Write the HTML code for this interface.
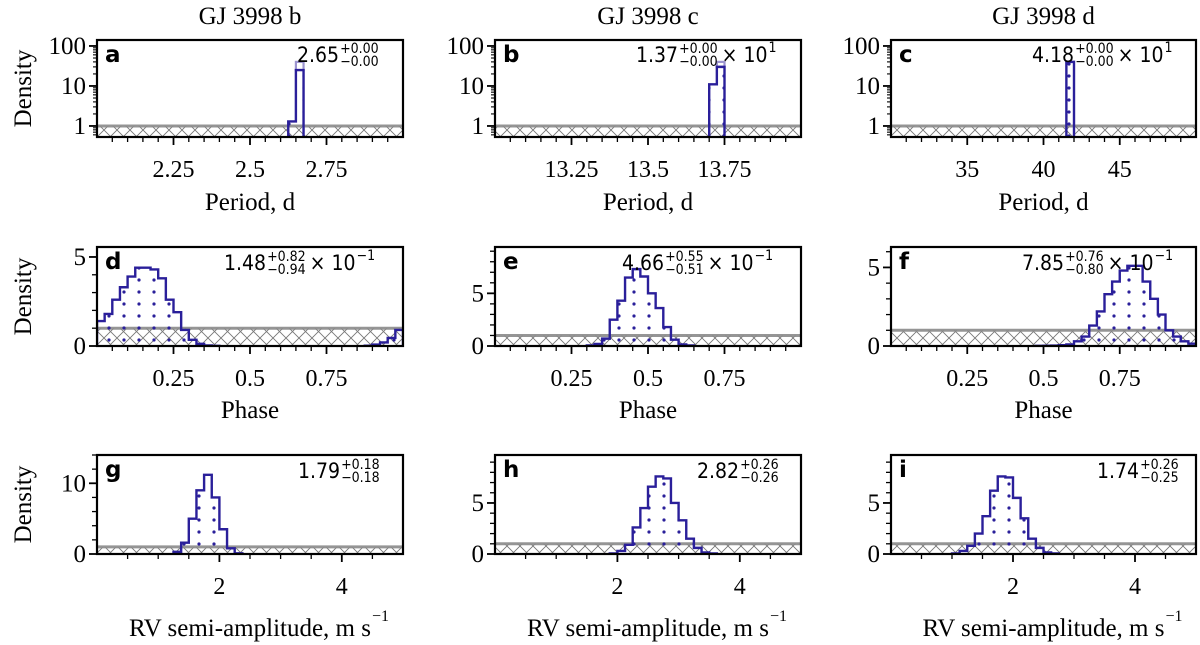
<!DOCTYPE html>
<html><head><meta charset="utf-8">
<style>
html,body{margin:0;padding:0;background:#fff;}
svg{display:block;}
.serif{font-family:"Liberation Serif",serif;fill:#000;}
.ann{font-family:"DejaVu Sans Condensed","DejaVu Sans",sans-serif;fill:#000;}
.lett{font-family:"DejaVu Sans","Liberation Sans",sans-serif;font-weight:bold;fill:#000;}
</style></head>
<body>
<svg id="fig" width="1200" height="645" viewBox="0 0 1200 645" xmlns="http://www.w3.org/2000/svg">
<defs>
<pattern id="hatch" width="13" height="13" patternUnits="userSpaceOnUse">
<path d="M0,0L13,13M13,0L0,13" stroke="#777" stroke-width="0.9"/>
</pattern>
<pattern id="dots" width="15" height="12" patternUnits="userSpaceOnUse">
<circle cx="4" cy="4" r="1.6" fill="#2a1f9a"/>
</pattern>
</defs>
</svg>
<script>
// ---- data ----
const colTitles = ["GJ 3998 b","GJ 3998 c","GJ 3998 d"];
const panelLetters = ["a","b","c","d","e","f","g","h","i"];
const xLabels = ["Period, d","Phase","RV semi-amplitude, m s"];
const annMain = ["2.65","1.37","4.18","1.48","4.66","7.85","1.79","2.82","1.74"];
const annPlus = ["+0.00","+0.00","+0.00","+0.82","+0.55","+0.76","+0.18","+0.26","+0.26"];
const annMinus = ["\u22120.00","\u22120.00","\u22120.00","\u22120.94","\u22120.51","\u22120.80","\u22120.18","\u22120.26","\u22120.25"];
const annExp = ["","1","1","\u22121","\u22121","\u22121","","",""];
const xMin = [2,13,30,0,0,0,0,0,0];
const xMax = [3,14,50,1,1,1,5,5,5];
const yMin = [0.53,0.53,0.53,0,0,0,0,0,0];
const yMax = [141,141,141,5.56,9.4,6.3,14,9.7,9.7];
const xMajor = [[2.25,2.5,2.75],[13.25,13.5,13.75],[35,40,45],[0.25,0.5,0.75],[0.25,0.5,0.75],[0.25,0.5,0.75],[2,4],[2,4],[2,4]];
const xMajorLabels = [["2.25","2.5","2.75"],["13.25","13.5","13.75"],["35","40","45"],["0.25","0.5","0.75"],["0.25","0.5","0.75"],["0.25","0.5","0.75"],["2","4"],["2","4"],["2","4"]];
const xMinorStep = [0.05,0.05,1,0.05,0.05,0.05,0.5,0.5,0.5];
const yMajor = [[1,10,100],[1,10,100],[1,10,100],[0,5],[0,5],[0,5],[0,10],[0,5],[0,5]];
const yMajorLabels = [["1","10","100"],["1","10","100"],["1","10","100"],["0","5"],["0","5"],["0","5"],["0","10"],["0","5"],["0","5"]];
const yMinorStep = [0,0,0,1,1,1,2,1,1];
// histogram bins: start, width, densities
const binStart = [2.6,13.675,40.5,0,0.275,0.475,1.125,1.75,0.875];
const binWidth = [0.025,0.025,0.5,0.025,0.025,0.025,0.125,0.125,0.125];
const histA = [0,1.3,25,0];
const histB = [0,11,30,0];
const histC = [0,0,40,0];
const histD = [1.4,1.8,2.6,3.3,3.9,4.4,4.4,4.3,3.8,2.6,1.9,0.9,0.35,0.12,0.03,0.01,0,0,0,0,0,0,0,0,0,0,0,0,0,0,0,0,0,0,0,0.02,0.08,0.2,0.45,0.9];
const histE = [0,0.05,0.2,0.7,2.5,4.3,6.5,7.3,6.6,5.0,3.6,1.8,0.6,0.15,0.05,0,0];
const histF = [0.01,0.02,0.03,0.05,0.1,0.3,0.6,1.3,2.2,3.3,4.1,4.8,5.1,5.1,4.1,3.0,2.0,1.0,0.6,0.3,0.15];
const histG = [0,0.3,1.6,5.0,9.0,11.2,8.0,3.5,0.8,0.1,0];
const histH = [0,0.05,0.3,0.9,2.6,4.5,6.6,7.6,7.4,5.0,3.3,1.5,0.6,0.15,0.05,0];
const histI = [0,0.05,0.3,0.8,2.0,3.7,6.2,7.6,7.5,5.5,3.5,1.5,0.6,0.15,0.05,0];
const hists = [histA,histB,histC,histD,histE,histF,histG,histH,histI];
const peakLight = [40,40,40,0,7.3,5.1,0,0,0];
const priorLevel = [1,1,1,1,1,1,1,1,1];

// ---- layout ----
const colX = [[97,403],[495,801],[891,1196]];
const rowY = [[40,137],[247,346],[455,554]];
const svg = document.getElementById('fig');
const NS = "http://www.w3.org/2000/svg";
function mk(tag, attrs, parent){
  const e = document.createElementNS(NS, tag);
  for (const k in attrs) e.setAttribute(k, attrs[k]);
  (parent||svg).appendChild(e);
  return e;
}

colTitles.forEach((t,c)=>{
  const e = mk('text',{x:(colX[c][0]+colX[c][1])/2,y:24,'text-anchor':'middle','font-size':25,class:'serif'});
  
  
  e.textContent = t;
});

for (let p=0;p<9;p++){
  const r = Math.floor(p/3), c = p%3;
  const [x0,x1] = colX[c], [y0,y1] = rowY[r];
  const logY = r===0;
  const X = v => x0 + (v - xMin[p])/(xMax[p]-xMin[p])*(x1-x0);
  const Y = v => {
    if (logY){ const lv=Math.log10(Math.max(v,1e-3)); return y1 - (lv-Math.log10(yMin[p]))/(Math.log10(yMax[p])-Math.log10(yMin[p]))*(y1-y0); }
    return y1 - (v - yMin[p])/(yMax[p]-yMin[p])*(y1-y0);
  };
  const g = mk('g',{});
  
  
  const clipId = 'clip'+p;
  const cp = mk('clipPath',{id:clipId},g);
  mk('rect',{x:x0,y:y0,width:x1-x0,height:y1-y0},cp);
  const inner = mk('g',{'clip-path':'url(#'+clipId+')'},g);

  const py = Y(priorLevel[p]);
  const prior = mk('rect',{x:x0,y:py,width:x1-x0,height:y1-py,fill:'url(#hatch)'},inner);
  
  
  const pl = mk('line',{x1:x0,x2:x1,y1:py,y2:py,stroke:'#8a8a8a','stroke-width':3,opacity:0.9},inner);
  
  

  const h = hists[p];
  let d = '';
  const base = y1+2;
  d += 'M'+X(binStart[p])+','+base;
  for (let i=0;i<h.length;i++){
    const xa = X(binStart[p]+i*binWidth[p]), xb = X(binStart[p]+(i+1)*binWidth[p]);
    const yy = h[i]>0 ? Y(h[i]) : base;
    d += 'L'+xa+','+yy+'L'+xb+','+yy;
  }
  d += 'L'+X(binStart[p]+h.length*binWidth[p])+','+base;
  if (peakLight[p]>0){
    let im=0; h.forEach((v,i)=>{ if(v>h[im]) im=i; });
    const lp = mk('rect',{x:X(binStart[p]+im*binWidth[p]),y:Y(peakLight[p]),width:X(binStart[p]+(im+1)*binWidth[p])-X(binStart[p]+im*binWidth[p]),height:Math.max(0,Y(h[im])-Y(peakLight[p])),fill:'none',stroke:'#9c94cf','stroke-width':2.2},inner);
    
    
  }
  const fillP = mk('path',{d:d+'Z',fill:'url(#dots)',stroke:'none'},inner);
  
  
  const hp = mk('path',{d:d,fill:'none',stroke:'#2a1f9a','stroke-width':2.4},inner);
  
  

  const fr = mk('rect',{x:x0,y:y0,width:x1-x0,height:y1-y0,fill:'none',stroke:'#000','stroke-width':2.2},g);
  
  

  const mstep = xMinorStep[p];
  for (let v=Math.ceil(xMin[p]/mstep)*mstep; v<xMax[p]-1e-9; v+=mstep){
    const xx=X(v); if (xx<=x0+1||xx>=x1-1) continue;
    const isMaj = xMajor[p].some(m=>Math.abs(m-v)<1e-6);
    mk('line',{x1:xx,x2:xx,y1:y1,y2:y1+(isMaj?8:5),stroke:'#000','stroke-width':isMaj?1.8:1.3},g);
  }
  xMajor[p].forEach((v,i)=>{
    const t = mk('text',{x:X(v),y:y1+40,'text-anchor':'middle','font-size':24,class:'serif'},g);
    
    
    t.textContent = xMajorLabels[p][i];
  });
  if (logY){
    for (let dec=-1; dec<=2; dec++){
      for (let m=1;m<10;m++){
        const v=m*Math.pow(10,dec); if (v<yMin[p]||v>yMax[p]) continue;
        mk('line',{x1:x0-(m===1?8:4),x2:x0,y1:Y(v),y2:Y(v),stroke:'#000','stroke-width':m===1?1.8:1.1},g);
      }
    }
  } else {
    for (let v=0; v<=yMax[p]; v+=yMinorStep[p]){
      const isMaj = yMajor[p].includes(v);
      mk('line',{x1:x0-(isMaj?8:5),x2:x0,y1:Y(v),y2:Y(v),stroke:'#000','stroke-width':isMaj?1.8:1.3},g);
    }
  }
  yMajor[p].forEach((v,i)=>{
    const t = mk('text',{x:x0-11,y:Y(v)+8,'text-anchor':'end','font-size':25,class:'serif'},g);
    
    
    t.textContent = yMajorLabels[p][i];
  });

  const L = mk('text',{x:x0+8,y:y0+22,'font-size':23,class:'lett'},g);
  
  
  L.textContent = panelLetters[p];

  const ax = [297,636,1032][c] + (r===1?[-73,-14,-10][c]:0) + (r===2?[1,61,65][c]:0);
  const ay = [62,270,478][r];
  const ag = mk('g',{},g);
  
  
  const tm = mk('text',{x:ax,y:ay,'font-size':21,class:'ann'},ag);
  tm.textContent = annMain[p];
  const w1 = tm.getComputedTextLength();
  const ts = mk('text',{x:ax+w1+1,y:ay-9,'font-size':14,class:'ann'},ag);
  ts.textContent = annPlus[p];
  const tb = mk('text',{x:ax+w1+1,y:ay+4,'font-size':14,class:'ann'},ag);
  tb.textContent = annMinus[p];
  const w2 = Math.max(ts.getComputedTextLength(), tb.getComputedTextLength());
  if (annExp[p]){
    const tx = mk('text',{x:ax+w1+w2+5,y:ay,'font-size':21,class:'ann'},ag);
    tx.textContent = '\u00d7 10';
    const w3 = tx.getComputedTextLength();
    const te = mk('text',{x:ax+w1+w2+5+w3+1,y:ay-10,'font-size':14,class:'ann'},ag);
    te.textContent = annExp[p];
  }

  if (c===0){
    const yl = mk('text',{x:0,y:0,'text-anchor':'middle','font-size':25,class:'serif',transform:'translate(31,'+((y0+y1)/2)+') rotate(-90)'},g);
    
    
    yl.textContent = 'Density';
  }

  const xl = mk('text',{x:(x0+x1)/2,y:[210,418,636][r],'text-anchor':'middle','font-size':25,class:'serif'},g);
  
  
  xl.textContent = xLabels[r];
  if (r===2){
    const w = xl.getComputedTextLength();
    const sup = mk('text',{x:(x0+x1)/2+w/2+1,y:621,'font-size':16,class:'serif'},g);
    sup.textContent = '\u22121';
  }
}
</script>
</body></html>
